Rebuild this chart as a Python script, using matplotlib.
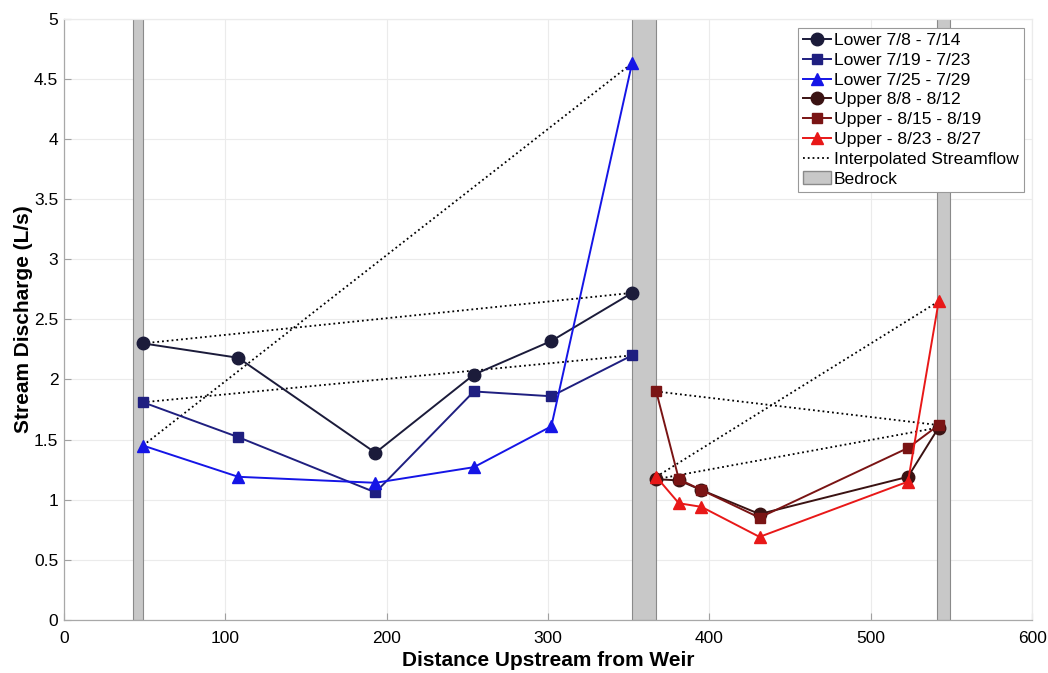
import numpy as np
import matplotlib.pyplot as plt
from matplotlib.patches import Patch
from matplotlib.lines import Line2D

plt.rcParams['font.family'] = ['Liberation Sans', 'DejaVu Sans']

# distances upstream from weir
x_lower = [49, 108, 193, 254, 302, 352]
x_upper = [367, 381, 395, 431, 523, 542]

# stream discharge (L/s)
q_lower_0708 = [2.30, 2.18, 1.39, 2.04, 2.32, 2.72]
q_lower_0719 = [1.81, 1.52, 1.06, 1.90, 1.86, 2.20]
q_lower_0725 = [1.45, 1.19, 1.14, 1.27, 1.61, 4.63]
q_upper_0808 = [1.17, 1.16, 1.08, 0.88, 1.19, 1.60]
q_upper_0815 = [1.90, 1.17, 1.08, 0.85, 1.43, 1.62]
q_upper_0823 = [1.19, 0.97, 0.94, 0.69, 1.15, 2.65]

labels = ['Lower 7/8 - 7/14', 'Lower 7/19 - 7/23', 'Lower 7/25 - 7/29',
          'Upper 8/8 - 8/12', 'Upper - 8/15 - 8/19', 'Upper - 8/23 - 8/27']

bedrock = [(43, 49), (352, 367), (541, 549)]

series = [
    (x_lower, q_lower_0708, '#1b1b3a', 'o', 9),
    (x_lower, q_lower_0719, '#1f1f80', 's', 7),
    (x_lower, q_lower_0725, '#1515e6', '^', 9),
    (x_upper, q_upper_0808, '#3a1212', 'o', 9),
    (x_upper, q_upper_0815, '#7a1414', 's', 7),
    (x_upper, q_upper_0823, '#e81818', '^', 9),
]

fig = plt.figure(figsize=(10.48, 6.73), dpi=100)
ax = fig.add_axes([0.061, 0.079, 0.924, 0.893])

for a, b in bedrock:
    ax.axvspan(a, b, facecolor='#c8c8c8', edgecolor='#8a8a8a', lw=0.8, zorder=1)

# interpolated streamflow: straight line from first to last point
for xs, ys, c, m, ms in series:
    ax.plot([xs[0], xs[-1]], [ys[0], ys[-1]], ':', color='black', lw=1.3, zorder=2)

handles = []
for (xs, ys, c, m, ms), lab in zip(series, labels):
    h, = ax.plot(xs, ys, '-', color=c, marker=m, markersize=ms, lw=1.4,
                 markeredgecolor=c, label=lab, zorder=3)
    handles.append(h)

handles.append(Line2D([], [], ls=':', color='black', lw=1.3, label='Interpolated Streamflow'))
handles.append(Patch(facecolor='#c8c8c8', edgecolor='#8a8a8a', label='Bedrock'))

ax.set_xlim(0, 600)
ax.set_ylim(0, 5)
ax.set_xticks(np.arange(0, 601, 100))
ax.set_yticks(np.arange(0, 5.01, 0.5))
ax.set_yticklabels(['0', '0.5', '1', '1.5', '2', '2.5', '3', '3.5', '4', '4.5', '5'])
ax.grid(True, color='#ebebeb', lw=0.8)
ax.set_axisbelow(True)
ax.tick_params(direction='in', length=5, labelsize=12.5, color='#a0a0a0')
ax.tick_params(axis='x', pad=8)
ax.tick_params(axis='y', pad=4)
ax.spines['left'].set_color('#a8a8a8')
ax.spines['bottom'].set_color('#a8a8a8')
ax.spines['top'].set_color('#ebebeb')
ax.spines['right'].set_color('#ebebeb')
for s in ax.spines.values():
    s.set_linewidth(0.9)

ax.set_xlabel('Distance Upstream from Weir', fontsize=15, fontweight='bold', labelpad=4)
ax.set_ylabel('Stream Discharge (L/s)', fontsize=15, fontweight='bold', labelpad=1)

leg = ax.legend(handles=handles, loc='upper right', fontsize=12.6, fancybox=False,
                framealpha=1, edgecolor='#999999', handlelength=1.6,
                handletextpad=0.15, borderpad=0.3, labelspacing=0.26,
                borderaxespad=0.5)
leg.get_frame().set_linewidth(0.8)

fig.savefig('out.png', dpi=100)
